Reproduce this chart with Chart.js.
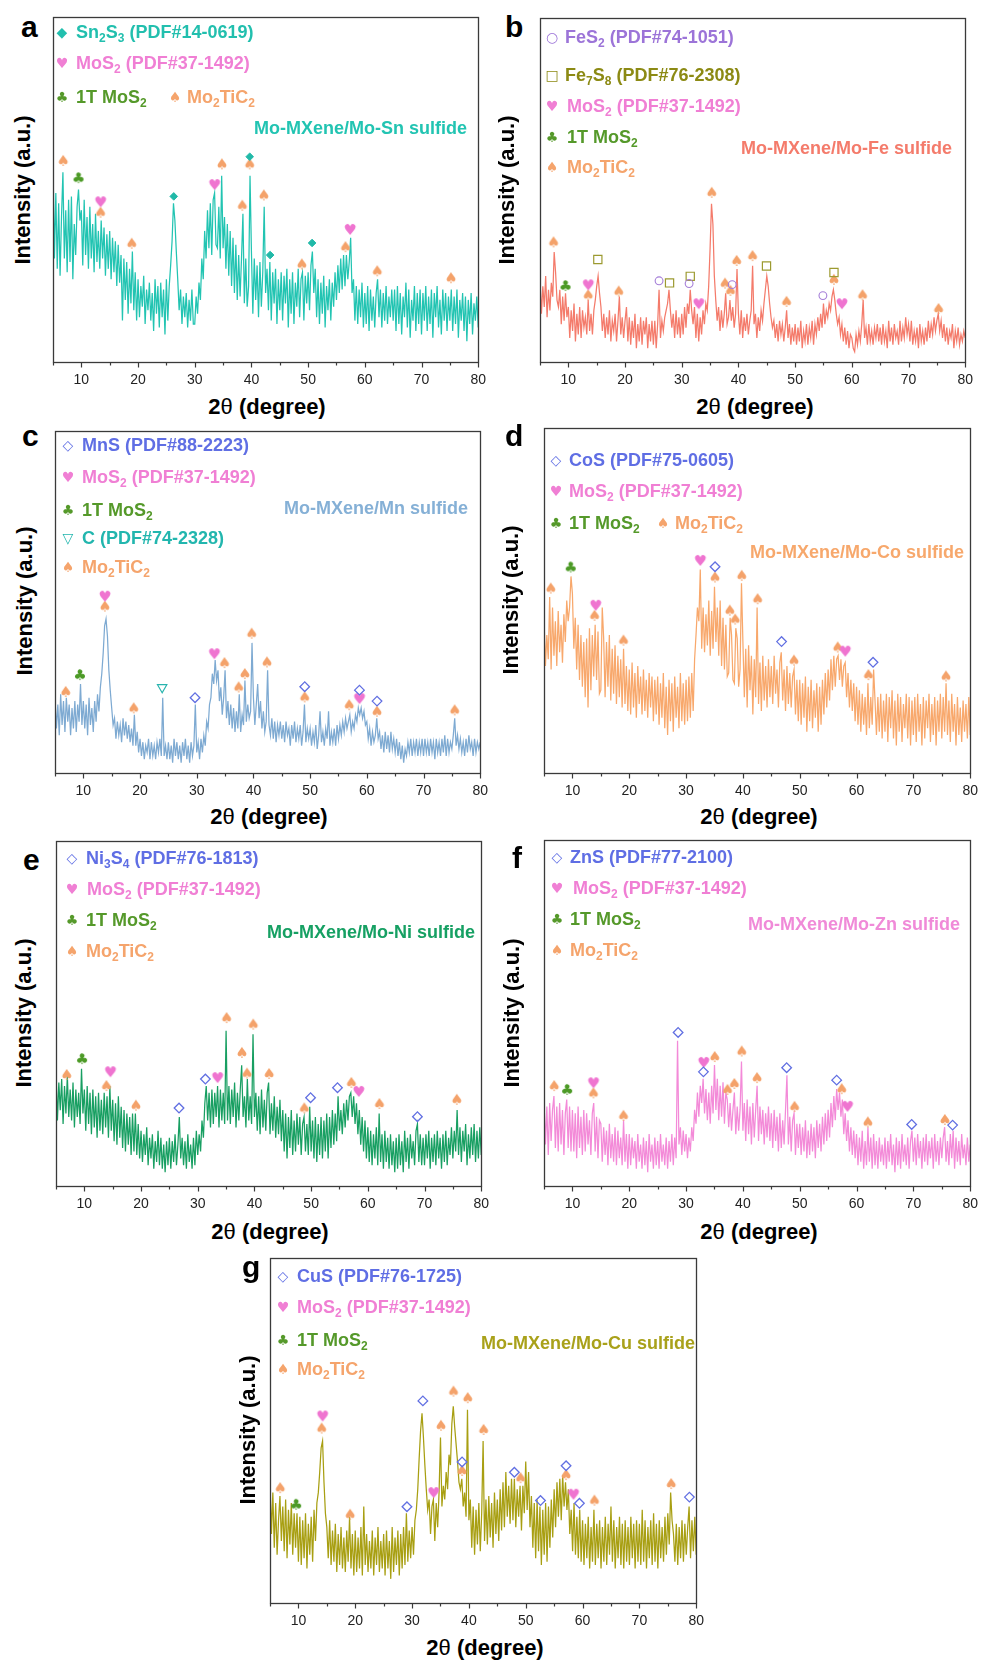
<!DOCTYPE html>
<html><head><meta charset="utf-8">
<script src="https://cdn.jsdelivr.net/npm/chart.js@4.4.1/dist/chart.umd.min.js"></script>
<style>
html,body{margin:0;padding:0;background:#fff;}
body{width:983px;height:1660px;position:relative;overflow:hidden;font-family:"Liberation Sans",Arial,sans-serif;}
canvas{position:absolute;}
.t{position:absolute;white-space:nowrap;font-weight:bold;font-size:18px;line-height:1;transform:translateY(-50%);}
.t sub{font-size:12px;vertical-align:-4px;line-height:0;}
.tr{transform:translate(-100%,-50%);}
.g{position:absolute;font-family:"DejaVu Sans",sans-serif;font-size:14px;line-height:1;transform:translate(-50%,-50%);}
.lab{position:absolute;font-weight:bold;font-size:30px;line-height:1;color:#000;}
.yt{position:absolute;font-weight:bold;font-size:22px;line-height:1;white-space:nowrap;color:#000;transform:translate(-50%,-50%) rotate(-90deg);}
.xt{position:absolute;font-weight:bold;font-size:22px;line-height:1;white-space:nowrap;color:#000;transform:translate(-50%,-50%);}
.xt span{font-weight:normal;}
</style>
</head><body>
<script>
// ---------- data (intensity in % of plot height, 2θ from 5° to 80° every 0.25°) ----------
const TWO_THETA_START = 5;
const TWO_THETA_STEP = 0.25;
const X_TICK_LABELS = [10,20,30,40,50,60,70,80];

const INT_A = [
58,30,49,27,46,25,42,55,30,44,26,47,29,48,24,40,31,45,50,41,
44,28,47,31,42,27,45,30,40,26,43,29,38,27,41,30,39,25,37,27,
38,24,36,26,35,22,34,23,31,12,30,18,29,14,27,17,32,15,26,12,
24,13,22,16,25,11,21,15,23,12,20,9,24,14,22,10,23,13,21,8,
24,12,22,28,35,46,41,32,24,15,21,11,19,13,20,10,18,12,21,11,
11,19,14,23,18,30,24,38,30,44,33,46,31,47,49,34,33,45,30,54,
33,42,27,40,25,38,22,36,20,34,18,31,19,30,43,17,30,16,22,54,
32,14,30,18,28,13,29,16,26,45,20,27,15,29,12,26,17,27,11,24,
15,26,12,25,17,27,10,24,14,26,11,23,16,27,13,24,26,12,25,17,
26,15,28,32,20,27,13,24,11,23,14,25,10,22,15,24,12,23,16,26,
18,28,20,30,21,31,22,31,24,29,36,20,24,12,22,11,21,13,23,10,
20,11,22,9,21,12,19,10,20,24,13,21,10,20,12,22,11,19,13,21,
12,21,9,22,11,20,8,19,13,23,10,21,7,18,12,22,9,20,11,21,
8,20,12,22,9,19,11,21,7,20,13,22,10,18,8,21,12,20,9,19,
12,21,9,19,11,21,7,18,12,20,9,19,6,18,11,20,8,17,12,19,
10];
const INT_B = [
24,14,22,16,25,13,21,15,23,19,32,26,18,16,21,11,19,12,20,13,
16,7,15,9,17,6,14,8,16,7,15,10,13,8,18,9,14,8,15,18,
22,25,20,16,9,14,7,13,8,15,6,12,9,14,6,12,19,8,13,7,
12,16,6,13,5,12,7,14,4,11,6,13,5,12,8,13,4,11,6,12,
5,12,4,11,21,7,12,9,13,15,17,21,15,10,14,7,15,8,13,7,
14,8,16,10,17,14,21,15,11,16,7,14,6,13,8,15,11,17,15,22,
33,46,40,25,18,12,16,9,15,10,14,20,11,13,18,12,16,10,14,27,
14,8,15,7,13,9,14,8,12,15,28,11,14,7,13,9,15,12,17,21,
25,22,17,13,10,12,7,11,6,12,8,11,6,10,15,7,11,5,10,6,
11,5,10,6,12,4,9,6,11,5,10,7,12,5,11,8,13,9,14,10,
17,11,15,13,17,15,19,21,18,14,11,13,8,11,6,10,5,9,4,8,
7,4,3,8,5,9,6,11,18,7,10,5,11,6,9,5,10,7,11,6,
10,5,11,6,9,4,12,6,10,5,11,7,9,5,12,6,10,7,13,8,
11,6,12,5,9,6,10,4,11,6,9,5,10,6,12,7,11,8,13,9,
12,14,9,12,7,11,6,10,5,9,7,11,4,9,6,10,5,8,6,9,
7];
const INT_C = [
22,13,20,11,23,14,21,12,22,15,20,11,19,13,21,12,20,15,26,14,
21,13,20,11,22,14,19,12,21,15,23,18,25,29,35,43,45,40,30,24,
19,14,16,10,15,11,14,9,16,11,15,10,14,9,13,8,17,8,12,6,
10,5,9,4,8,6,10,4,9,5,8,4,9,6,10,5,22,5,8,4,
9,4,8,3,10,5,9,4,8,3,9,5,10,4,8,3,9,5,8,20,
6,9,4,10,6,11,8,15,13,20,22,29,26,33,27,30,21,25,17,22,
30,16,21,14,20,13,19,12,18,13,23,12,17,14,27,15,20,16,18,38,
22,14,20,26,16,21,13,18,12,15,30,14,11,16,10,15,9,14,11,15,
10,14,9,15,11,13,8,14,10,15,9,13,10,14,8,12,20,9,13,10,
13,8,12,9,14,7,11,18,9,12,8,13,10,18,8,12,9,13,8,14,
10,14,11,15,12,16,13,15,17,12,15,13,17,15,19,17,19,16,18,14,
15,10,13,8,12,9,11,16,10,12,7,11,6,12,7,11,6,12,7,10,
6,10,5,9,4,8,3,7,5,9,6,10,5,9,6,10,5,9,6,10,
5,10,6,9,5,10,6,9,4,10,6,9,5,10,6,11,5,10,6,9,
7,11,16,8,11,7,10,6,9,5,10,6,11,7,9,5,10,6,9,7,
9];
const INT_D = [
45,31,40,33,51,30,48,34,44,31,47,35,43,32,46,38,50,44,48,57,
52,36,45,30,43,27,40,25,38,22,39,19,42,24,40,28,43,27,41,23,
24,48,39,22,38,25,40,21,36,23,37,20,34,22,33,19,36,20,31,18,
30,17,32,19,29,16,31,20,28,17,30,18,27,16,29,19,28,15,27,17,
28,14,26,16,29,13,25,11,27,15,26,12,28,16,25,13,29,15,26,14,
27,15,28,16,29,18,33,40,48,44,59,36,48,35,46,37,50,34,47,36,
54,38,48,34,50,31,45,30,43,28,29,45,40,27,26,42,39,25,30,55,
38,22,36,19,37,24,34,17,33,22,48,20,32,18,34,21,31,19,33,22,
31,20,34,23,30,19,32,35,21,30,18,31,20,29,19,28,30,17,27,15,
27,14,26,16,28,12,25,15,27,13,24,16,26,12,25,14,27,17,29,19,
30,21,33,24,34,25,33,34,27,33,25,31,32,22,29,19,27,18,26,15,
25,14,24,12,23,14,22,11,26,13,22,14,30,21,11,22,12,23,10,21,
12,23,9,22,13,24,10,21,8,23,12,22,9,20,13,23,10,22,8,21,
11,22,9,23,12,20,8,22,10,21,13,23,9,20,11,22,8,21,12,23,
10,22,12,26,11,21,9,23,12,20,8,22,11,19,9,21,12,20,10,22,
11];
const INT_E = [
33,19,30,22,31,18,29,21,32,20,28,19,30,17,28,20,27,18,34,21,
28,16,29,18,27,15,28,17,26,14,27,16,25,15,27,17,26,14,29,16,
25,13,24,12,26,14,23,11,22,10,21,12,20,9,21,10,21,9,18,8,
16,7,15,9,17,6,14,8,15,5,13,7,16,6,14,5,12,4,13,6,
14,5,13,7,15,6,12,20,8,14,6,13,5,15,7,12,5,14,6,16,
9,15,10,19,14,24,29,19,27,17,28,18,27,20,29,17,28,19,27,18,
45,19,29,18,28,20,30,17,27,19,28,35,20,26,17,31,19,26,18,44,
20,27,16,26,15,28,17,25,16,27,30,15,24,16,26,14,23,15,25,13,
22,10,21,8,20,11,22,9,19,10,21,12,20,9,18,20,10,18,9,23,
10,19,8,20,7,18,9,20,8,19,10,21,8,20,11,22,12,21,13,26,
16,22,15,24,17,25,19,26,27,20,26,18,24,15,22,12,20,10,19,8,
17,7,16,6,15,8,17,6,21,7,15,5,16,7,14,5,15,6,13,4,
14,5,15,6,13,4,16,7,14,5,15,8,13,6,16,18,7,15,6,14,
6,15,8,16,5,14,7,15,6,16,8,14,5,15,7,16,6,14,9,17,
8,16,10,22,9,17,7,16,10,18,6,15,8,17,9,18,7,16,8,17,
9];
const INT_F = [
25,12,23,9,24,13,22,26,11,23,10,24,12,22,9,21,25,11,23,10,
22,10,21,8,23,11,20,9,22,10,21,12,19,9,21,24,10,20,8,19,
18,7,17,9,16,6,18,8,15,7,17,6,16,8,14,6,19,7,15,5,
15,6,14,8,13,5,15,7,12,5,14,6,13,4,15,7,12,5,14,6,
13,5,15,7,12,6,14,5,13,7,15,6,14,8,42,12,17,9,16,10,
15,8,14,10,17,13,22,18,27,20,29,24,31,21,28,19,27,18,29,21,
35,22,31,19,29,20,30,18,27,25,17,24,16,22,27,15,23,16,22,36,
16,24,13,25,15,23,12,24,14,22,29,13,23,15,22,12,21,14,23,13,
21,11,22,13,20,10,21,11,19,12,22,32,12,20,10,19,21,9,18,11,
18,9,17,10,19,8,16,9,18,10,17,8,19,11,18,10,20,12,21,13,
22,14,24,17,26,19,28,22,27,20,25,15,21,13,19,10,17,9,16,8,
15,6,14,7,16,5,13,6,17,7,14,5,15,6,13,5,14,7,12,6,
14,5,13,7,15,6,12,4,14,6,13,5,15,7,12,6,14,5,13,16,
7,14,6,15,8,13,5,14,7,15,6,13,8,14,5,15,7,13,6,14,
8,14,17,7,13,6,15,8,16,5,14,7,13,6,15,8,12,6,14,7,
12];
const INT_G = [
35,20,32,16,29,14,24,31,18,28,15,30,13,27,17,29,14,26,16,26,
12,25,11,24,13,26,10,23,14,25,12,27,18,29,32,38,45,47,35,26,
22,13,24,11,21,12,23,9,20,11,22,10,19,9,21,12,25,10,20,8,
21,9,19,10,22,8,28,11,20,9,18,10,21,8,19,11,22,9,18,10,
20,8,21,10,18,7,22,9,19,11,21,8,20,10,22,11,26,12,21,13,
22,14,24,27,33,42,50,55,48,40,33,27,30,20,28,30,18,29,22,32,
48,28,34,30,38,33,43,40,52,57,51,46,41,35,33,36,28,32,25,56,
24,30,16,28,14,27,17,29,15,26,47,18,30,17,31,19,29,16,32,20,
30,18,33,21,35,22,38,25,34,23,36,24,36,22,33,25,34,21,34,26,
41,27,38,22,31,16,29,13,30,15,28,11,27,14,29,12,28,16,30,19,
33,22,35,25,36,24,37,28,35,27,33,20,27,15,29,14,25,13,27,12,
24,11,23,13,25,10,22,12,27,11,23,13,24,10,22,12,25,11,23,14,
28,12,24,10,22,13,25,11,23,10,24,12,22,11,25,13,23,10,24,12,
23,11,27,12,24,10,22,13,24,11,26,12,23,10,24,13,22,12,25,14,
26,17,32,24,20,12,23,11,22,13,24,12,23,14,22,28,13,24,15,25,
14];

// ---------- reflection markers [2θ, height %] ----------
const A_SN2S3   = [[26.3,48],[39.7,59.5],[43.3,31],[50.7,34.5]];
const A_MOS2    = [[13.4,46],[33.5,51],[57.4,38]];
const A_1T      = [[9.5,53]];
const A_MO2TIC2 = [[6.8,58],[13.4,43],[18.9,34],[34.8,57],[38.4,45],[39.7,57],[42.2,48],[48.9,28],[56.6,33],[62.2,26],[75.2,24]];

const B_FES2    = [[26.0,23.6],[31.3,22.8],[38.9,22.5],[54.9,19.3]];
const B_FE7S8   = [[15.2,29.8],[27.85,23],[31.5,24.9],[44.95,27.9],[56.85,26]];
const B_MOS2    = [[13.5,22],[33.0,16.5],[58.25,16.5]];
const B_1T      = [[9.5,21.8]];
const B_MO2TIC2 = [[7.4,34.5],[13.5,19.1],[18.9,20.2],[35.3,48.9],[37.65,22.5],[38.6,20.4],[39.7,29.1],[42.5,30.5],[48.5,17.2],[56.85,23.6],[61.9,19.1],[75.3,15.1]];

const C_MNS     = [[29.7,22],[49.05,25.2],[58.7,24.2],[61.8,21]];
const C_MOS2    = [[13.8,51.2],[33.1,34.4],[58.7,21.3]];
const C_1T      = [[9.4,28.3]];
const C_C       = [[23.9,25]];
const C_MO2TIC2 = [[6.9,23.4],[13.8,48.3],[18.9,18.6],[34.9,31.8],[37.4,24.7],[38.5,28.6],[39.7,40.4],[42.4,32],[49.05,21.8],[56.9,19.5],[61.8,17.6],[75.5,18]];

const D_COS     = [[35.1,59.8],[46.8,38.1],[62.9,32.1]];
const D_MOS2    = [[14.1,48.2],[32.5,61.2],[58.0,34.9]];
const D_1T      = [[9.7,59.3]];
const D_MO2TIC2 = [[6.2,53.2],[13.9,45.3],[19.0,38.1],[35.1,56.4],[37.7,46.8],[38.65,44.2],[39.8,56.9],[42.6,50.1],[49.0,32.3],[56.7,36.1],[62.1,28.1],[75.75,27.7]];

const E_NI3S4   = [[26.7,22.6],[31.35,31],[49.9,25.6],[54.65,28.5],[68.75,20.1]];
const E_MOS2    = [[14.6,32.7],[33.5,31],[58.4,27]];
const E_1T      = [[9.6,36.5]];
const E_MO2TIC2 = [[6.9,31.9],[13.9,28.7],[19.1,23],[35.1,48.4],[37.8,38.3],[38.7,32.3],[39.8,46.5],[42.6,32.2],[48.8,22.2],[57.1,29.6],[62.05,23.5],[75.7,24.7]];

const F_ZNS     = [[28.6,44.4],[33.05,33],[47.7,34.2],[56.5,30.6],[69.7,17.8],[76.9,17.6]];
const F_MOS2    = [[13.7,29.4],[33.1,35.3],[58.4,22.6]];
const F_1T      = [[9.07,27.5]];
const F_MO2TIC2 = [[6.8,28.6],[13.7,26.5],[19.0,20],[35.05,37],[37.3,27.5],[38.5,29.2],[39.8,38.6],[42.5,30.9],[49.1,22.6],[57.4,27.7],[62.0,18.1],[75.55,18.8]];

const G_CUS     = [[29.1,27.9],[31.9,58.6],[38.8,40.9],[48.0,37.9],[52.6,29.7],[57.1,39.8],[59.45,28.9],[78.8,30.7]];
const G_MOS2    = [[14.25,53.8],[33.8,31.6],[58.4,31.1]];
const G_1T      = [[9.6,28.2]];
const G_MO2TIC2 = [[6.8,33],[14.1,50.3],[19.1,25.3],[35.1,51.1],[37.3,61],[38.8,38],[39.8,59.1],[42.6,49.9],[49.1,35.9],[57.1,36.8],[62.1,29.4],[75.6,34.2]];

// ---------- styling ----------
const COL = {
  teal:'#22bfae', pink:'#f07fd4', green:'#55992a', orange:'#f5a46c',
  purple:'#9c74d8', olive:'#8c8a14', blue:'#5f6ee4', cteal:'#22b6ae'
};
const PADX = 14, PADT = 6, AXIS_H = 30;

function glyphCanvas(ch, color, px) {
  const s = Math.ceil(px * 1.3);
  const c = document.createElement('canvas');
  c.width = s; c.height = s;
  const x = c.getContext('2d');
  x.fillStyle = color;
  x.font = px + 'px "DejaVu Sans"';
  x.textAlign = 'center';
  x.textBaseline = 'middle';
  x.fillText(ch, s / 2, s / 2 + 0.5);
  return c;
}

function markerDataset(points, kind) {
  const base = {type:'scatter', data: points.map(p => ({x:p[0], y:p[1]})), showLine:false, order:0, pointRadius:4, pointHoverRadius:4};
  switch (kind) {
    case 'spade': return Object.assign(base, {pointStyle: glyphCanvas('\u2660', '#f4a26a', 15)});
    case 'heart': return Object.assign(base, {pointStyle: glyphCanvas('\u2665', '#ef74d0', 15)});
    case 'club':  return Object.assign(base, {pointStyle: glyphCanvas('\u2663', '#4c9a26', 15)});
    case 'dfill': return Object.assign(base, {pointStyle:'rectRot', pointRadius:3.8, pointBackgroundColor:'#21b9a8', pointBorderColor:'#21b9a8', pointBorderWidth:1});
    case 'diamond': return Object.assign(base, {pointStyle:'rectRot', pointRadius:4.8, pointBackgroundColor:'rgba(255,255,255,0)', pointBorderColor:'#6270e2', pointBorderWidth:1.3});
    case 'circle': return Object.assign(base, {pointStyle:'circle', pointRadius:3.9, pointBackgroundColor:'rgba(255,255,255,0)', pointBorderColor:'#a57ed8', pointBorderWidth:1.1});
    case 'square': return Object.assign(base, {pointStyle:'rect', pointRadius:5.8, pointBackgroundColor:'rgba(255,255,255,0)', pointBorderColor:'#9c9a30', pointBorderWidth:1.2});
    case 'tri': return Object.assign(base, {pointStyle:'triangle', pointRotation:180, pointRadius:5.4, pointBackgroundColor:'rgba(255,255,255,0)', pointBorderColor:'#28b4ae', pointBorderWidth:1.2});
  }
}

const framePlugin = {
  id: 'frame',
  afterDraw(chart) {
    const {ctx, chartArea: a} = chart;
    const xs = chart.scales.x;
    ctx.save();
    ctx.strokeStyle = '#3a3a3a';
    ctx.lineWidth = 1.3;
    ctx.strokeRect(Math.round(a.left) + 0.5, Math.round(a.top) + 0.5, Math.round(a.right - a.left), Math.round(a.bottom - a.top));
    ctx.lineWidth = 1.2;
    xs.ticks.forEach(t => {
      const px = Math.round(xs.getPixelForValue(t.value)) + 0.5;
      const len = X_TICK_LABELS.includes(t.value) ? 5 : 3;
      ctx.beginPath();
      ctx.moveTo(px, Math.round(a.bottom) + 0.5);
      ctx.lineTo(px, Math.round(a.bottom) + 0.5 + len);
      ctx.stroke();
    });
    ctx.restore();
  }
};

const LAYOUT = {
  a:{l:53, t:17,  r:482, b:362,  lab:[21,37],    yt:[23,190],  xt:[267,407]},
  b:{l:540,t:17,  r:969, b:362,  lab:[505,37],   yt:[507,190], xt:[755,407]},
  c:{l:55, t:430, r:484, b:773,  lab:[22,446],   yt:[25,601],  xt:[269,817]},
  d:{l:544,t:428, r:974, b:773,  lab:[505,446],  yt:[511,600], xt:[759,817]},
  e:{l:56, t:841, r:485, b:1186, lab:[23,870],   yt:[24,1013], xt:[270,1232]},
  f:{l:544,t:840, r:974, b:1186, lab:[512,868],  yt:[512,1013],xt:[759,1232]},
  g:{l:270,t:1258,r:700, b:1603, lab:[242,1277], yt:[248,1430],xt:[485,1648]}
};

function makeChart(key, intensity, color, markerSets) {
  const L = LAYOUT[key];
  const W = L.r - L.l + 2 * PADX, H = L.b - L.t + PADT + AXIS_H;
  const cv = document.createElement('canvas');
  cv.width = W; cv.height = H;
  cv.style.left = (L.l - PADX) + 'px';
  cv.style.top = (L.t - PADT) + 'px';
  cv.style.width = W + 'px'; cv.style.height = H + 'px';
  document.body.appendChild(cv);
  const trace = intensity.map((v, i) => ({x: TWO_THETA_START + i * TWO_THETA_STEP, y: v}));
  const datasets = markerSets.map(m => markerDataset(m[0], m[1]));
  datasets.push({type:'line', data: trace, borderColor: color, borderWidth: 1.25, pointRadius: 0, tension: 0, fill: false, order: 2});
  new Chart(cv, {
    type: 'line',
    data: {datasets},
    options: {
      responsive: false, animation: false, events: [],
      layout: {padding: {left: PADX, right: PADX, top: PADT, bottom: 0}},
      plugins: {legend: {display: false}, tooltip: {enabled: false}, title: {display: false}},
      scales: {
        x: {
          type: 'linear', min: 5, max: 80,
          grid: {display: false, drawTicks: false},
          border: {display: false},
          ticks: {stepSize: 5, autoSkip: false, maxRotation: 0, padding: 10, color: '#222',
                  font: {family: '"Liberation Sans", Arial, sans-serif', size: 14},
                  callback: v => X_TICK_LABELS.includes(v) ? String(v) : ''},
          afterFit: s => { s.height = AXIS_H; }
        },
        y: {display: false, min: 0, max: 100}
      }
    },
    plugins: [framePlugin]
  });
  addEl('div', 'lab', key, L.lab[0], L.lab[1] - 25.4);
  addEl('div', 'yt', 'Intensity (a.u.)', L.yt[0], L.yt[1]);
  addEl('div', 'xt', '2<span>\u03B8</span> (degree)', L.xt[0], L.xt[1]);
}

function addEl(tag, cls, html, x, y, color) {
  const d = document.createElement(tag);
  d.className = cls;
  d.innerHTML = html;
  d.style.left = x + 'px';
  d.style.top = y + 'px';
  if (color) d.style.color = color;
  document.body.appendChild(d);
  return d;
}
function legendRow(glyph, gcol, gx, tx, y, html, tcol) {
  addEl('div', 'g', glyph, gx, y, gcol);
  addEl('div', 't', html, tx, y, tcol);
}
function panelTitle(text, xr, y, col) {
  addEl('div', 't tr', text, xr, y, col);
}

const MOS2_TXT = 'MoS<sub>2</sub> (PDF#37-1492)';
const T1_TXT = '1T MoS<sub>2</sub>';
const MTC_TXT = 'Mo<sub>2</sub>TiC<sub>2</sub>';

makeChart('a', INT_A, '#22c4b2', [[A_SN2S3,'dfill'],[A_MOS2,'heart'],[A_1T,'club'],[A_MO2TIC2,'spade']]);
legendRow('\u25C6', COL.teal, 62, 76, 32, 'Sn<sub>2</sub>S<sub>3</sub> (PDF#14-0619)', COL.teal);
legendRow('\u2665', COL.pink, 62, 76, 63, MOS2_TXT, COL.pink);
legendRow('\u2663', COL.green, 62, 76, 97, T1_TXT, COL.green);
legendRow('\u2660', COL.orange, 175, 187, 97, MTC_TXT, COL.orange);
panelTitle('Mo-MXene/Mo-Sn sulfide', 467, 128, '#22c4b2');

makeChart('b', INT_B, '#f47b6b', [[B_FES2,'circle'],[B_FE7S8,'square'],[B_MOS2,'heart'],[B_1T,'club'],[B_MO2TIC2,'spade']]);
legendRow('\u25CB', COL.purple, 552, 565, 37, 'FeS<sub>2</sub> (PDF#74-1051)', COL.purple);
legendRow('\u25A1', COL.olive, 552, 565, 75, 'Fe<sub>7</sub>S<sub>8</sub> (PDF#76-2308)', COL.olive);
legendRow('\u2665', COL.pink, 552, 567, 106, MOS2_TXT, COL.pink);
legendRow('\u2663', COL.green, 552, 567, 137, T1_TXT, COL.green);
legendRow('\u2660', COL.orange, 552, 567, 167, MTC_TXT, COL.orange);
panelTitle('Mo-MXene/Mo-Fe sulfide', 952, 148, '#f47b6b');

makeChart('c', INT_C, '#7eaad2', [[C_MNS,'diamond'],[C_MOS2,'heart'],[C_1T,'club'],[C_C,'tri'],[C_MO2TIC2,'spade']]);
legendRow('\u25C7', COL.blue, 68, 82, 445, 'MnS (PDF#88-2223)', COL.blue);
legendRow('\u2665', COL.pink, 68, 82, 477, MOS2_TXT, COL.pink);
legendRow('\u2663', COL.green, 68, 82, 510, T1_TXT, COL.green);
legendRow('\u25BD', COL.cteal, 68, 82, 538, 'C (PDF#74-2328)', COL.cteal);
legendRow('\u2660', COL.orange, 68, 82, 567, MTC_TXT, COL.orange);
panelTitle('Mo-MXene/Mn sulfide', 468, 508, '#85b0d6');

makeChart('d', INT_D, '#f8a86c', [[D_COS,'diamond'],[D_MOS2,'heart'],[D_1T,'club'],[D_MO2TIC2,'spade']]);
legendRow('\u25C7', COL.blue, 556, 569, 460, 'CoS (PDF#75-0605)', COL.blue);
legendRow('\u2665', COL.pink, 556, 569, 491, MOS2_TXT, COL.pink);
legendRow('\u2663', COL.green, 556, 569, 523, T1_TXT, COL.green);
legendRow('\u2660', COL.orange, 663, 675, 523, MTC_TXT, COL.orange);
panelTitle('Mo-MXene/Mo-Co sulfide', 964, 552, '#f7a86c');

makeChart('e', INT_E, '#189f62', [[E_NI3S4,'diamond'],[E_MOS2,'heart'],[E_1T,'club'],[E_MO2TIC2,'spade']]);
legendRow('\u25C7', COL.blue, 72, 86, 858, 'Ni<sub>3</sub>S<sub>4</sub> (PDF#76-1813)', COL.blue);
legendRow('\u2665', COL.pink, 72, 87, 889, MOS2_TXT, COL.pink);
legendRow('\u2663', COL.green, 72, 86, 920, T1_TXT, COL.green);
legendRow('\u2660', COL.orange, 72, 86, 951, MTC_TXT, COL.orange);
panelTitle('Mo-MXene/Mo-Ni sulfide', 475, 932, '#16a063');

makeChart('f', INT_F, '#f38ad8', [[F_ZNS,'diamond'],[F_MOS2,'heart'],[F_1T,'club'],[F_MO2TIC2,'spade']]);
legendRow('\u25C7', COL.blue, 557, 570, 857, 'ZnS (PDF#77-2100)', COL.blue);
legendRow('\u2665', COL.pink, 557, 573, 888, MOS2_TXT, COL.pink);
legendRow('\u2663', COL.green, 557, 570, 919, T1_TXT, COL.green);
legendRow('\u2660', COL.orange, 557, 570, 950, MTC_TXT, COL.orange);
panelTitle('Mo-MXene/Mo-Zn sulfide', 960, 924, '#f08ad8');

makeChart('g', INT_G, '#a89f12', [[G_CUS,'diamond'],[G_MOS2,'heart'],[G_1T,'club'],[G_MO2TIC2,'spade']]);
legendRow('\u25C7', COL.blue, 283, 297, 1276, 'CuS (PDF#76-1725)', COL.blue);
legendRow('\u2665', COL.pink, 283, 297, 1307, MOS2_TXT, COL.pink);
legendRow('\u2663', COL.green, 283, 297, 1340, T1_TXT, COL.green);
legendRow('\u2660', COL.orange, 283, 297, 1369, MTC_TXT, COL.orange);
panelTitle('Mo-MXene/Mo-Cu sulfide', 695, 1343, '#a9a11a');
</script>
</body></html>
